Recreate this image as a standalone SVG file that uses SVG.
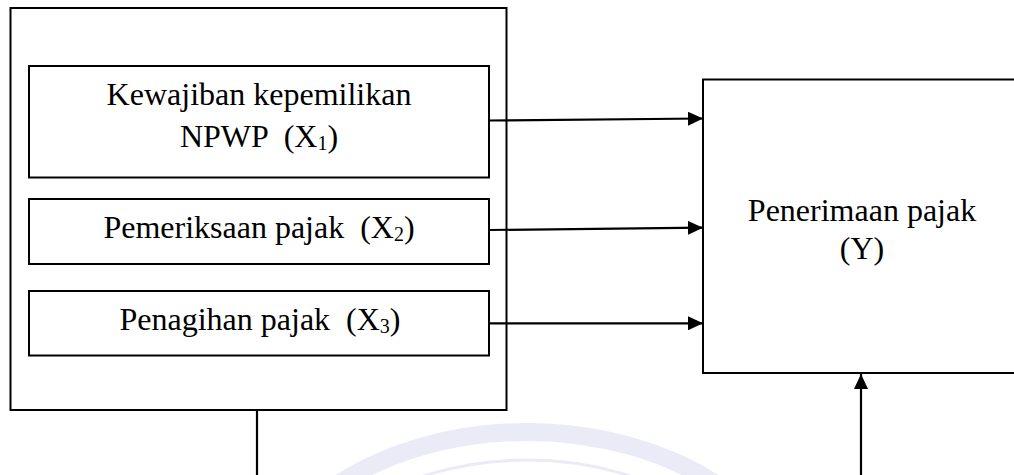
<svg xmlns="http://www.w3.org/2000/svg" width="1014" height="475" viewBox="0 0 1014 475">
  <style>
    .box { fill: #ffffff; stroke: #000000; stroke-width: 2; }
    .frame { fill: none; stroke: #000000; stroke-width: 2; }
    .lbl { font-family: "Liberation Serif", "Times New Roman", serif; font-size: 32px; fill: #000000; text-anchor: middle; }
    .sub { font-size: 20px; }
    .wire { fill: none; stroke: #000000; stroke-width: 2.2; }
    .wm { fill: none; stroke: #ebebf8; }
  </style>
  <defs>
    <marker id="arrow" markerUnits="userSpaceOnUse" markerWidth="16" markerHeight="14" refX="15" refY="7" orient="auto">
      <path d="M0,0 L15,7 L0,14 Z" fill="#000000"/>
    </marker>
  </defs>

  <rect width="1014" height="475" fill="#ffffff"/>

  <!-- faint seal in the background -->
  <g id="watermark">
    <ellipse class="wm" cx="527" cy="634" rx="282" ry="202" stroke-width="18"/>
    <ellipse class="wm" cx="527" cy="640" rx="250" ry="180" stroke-width="3"/>
  </g>

  <!-- group frame around the independent variables -->
  <g id="group-x">
    <rect class="frame" x="10.5" y="8" width="496" height="402"/>
  </g>

  <g id="node-x1">
    <rect class="box" x="29" y="66" width="460" height="111.5"/>
    <text class="lbl" x="259" y="105">Kewajiban kepemilikan</text>
    <text class="lbl" x="259" y="147" xml:space="preserve">NPWP  (X<tspan class="sub" dy="2.5">1</tspan><tspan dy="-2.5">)</tspan></text>
  </g>

  <g id="node-x2">
    <rect class="box" x="29" y="199" width="460" height="65"/>
    <text class="lbl" x="259" y="238" xml:space="preserve">Pemeriksaan pajak  (X<tspan class="sub" dy="2.5">2</tspan><tspan dy="-2.5">)</tspan></text>
  </g>

  <g id="node-x3">
    <rect class="box" x="29" y="291" width="460" height="64.5"/>
    <text class="lbl" x="260" y="330" xml:space="preserve">Penagihan pajak  (X<tspan class="sub" dy="2.5">3</tspan><tspan dy="-2.5">)</tspan></text>
  </g>

  <g id="node-y">
    <rect class="box" x="703" y="79.5" width="318" height="293.5"/>
    <text class="lbl" x="862" y="220.5">Penerimaan pajak</text>
    <text class="lbl" x="862" y="258.5">(Y)</text>
  </g>

  <g id="connectors">
    <line class="wire" x1="489" y1="120.5" x2="703" y2="118.5" marker-end="url(#arrow)"/>
    <line class="wire" x1="489" y1="230" x2="703" y2="227.7" marker-end="url(#arrow)"/>
    <line class="wire" x1="489" y1="323.3" x2="703" y2="323.3" marker-end="url(#arrow)"/>
    <line class="wire" x1="257" y1="410" x2="257" y2="476"/>
    <line class="wire" x1="861" y1="476" x2="861" y2="374" marker-end="url(#arrow)"/>
  </g>
</svg>
